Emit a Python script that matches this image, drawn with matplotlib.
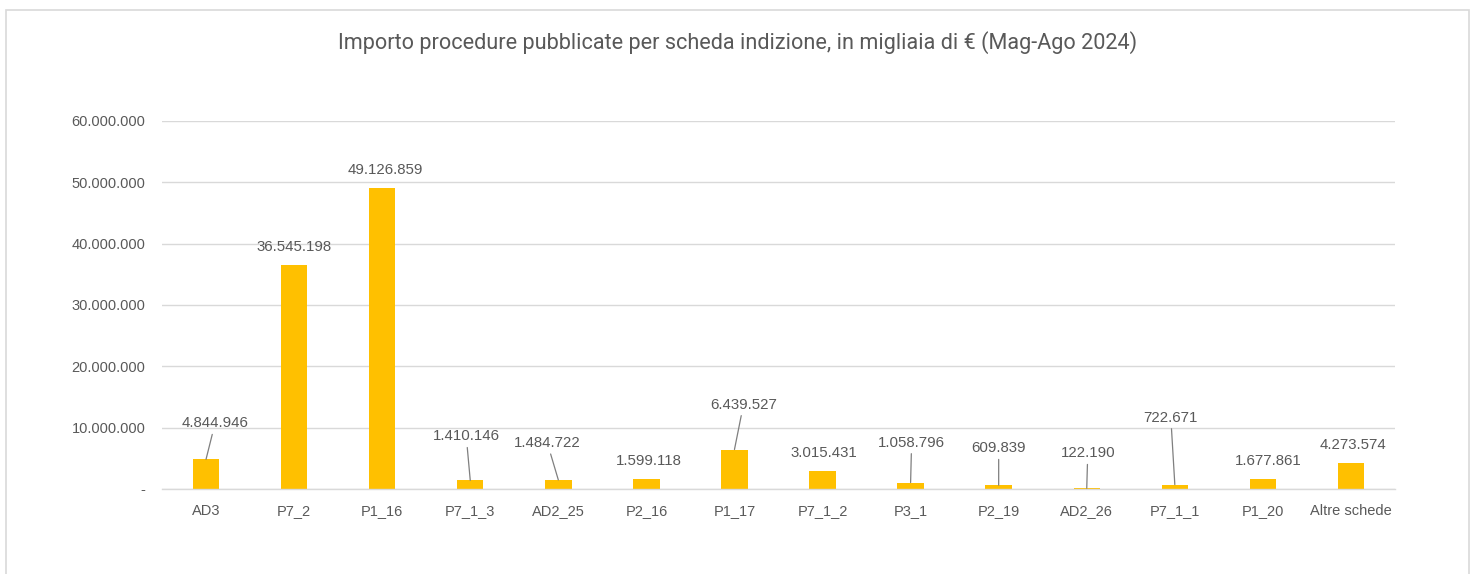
import matplotlib
matplotlib.use("Agg")
import matplotlib.pyplot as plt
from matplotlib.patches import Rectangle

# dati (migliaia di euro)
schede = ["AD3", "P7_2", "P1_16", "P7_1_3", "AD2_25", "P2_16", "P1_17",
          "P7_1_2", "P3_1", "P2_19", "AD2_26", "P7_1_1", "P1_20", "Altre schede"]
importi = [4844946, 36545198, 49126859, 1410146, 1484722, 1599118, 6439527,
           3015431, 1058796, 609839, 122190, 722671, 1677861, 4273574]

# posizione delle etichette rispetto alla cima della barra (pixel) e linea guida
lab_dx = [9, 0, 3, -4, -11, 2, 9, 1, 1, 0, 1, -4, 5, 2]
lab_dy = [-36, -18, -18, -44, -37, -18, -45, -18, -40, -37, -35, -67, -18, -18]
leader = [True, False, False, True, True, False, True, False, True, True, True, True, False, False]

grey = "#595959"
gold = "#FFC000"
light = "#D9D9D9"


def fmt_it(v):
    if v == 0:
        return "-"
    return f"{int(v):,}".replace(",", ".")


plt.rcParams['font.family'] = ['Liberation Sans', 'DejaVu Sans']

fig = plt.figure(figsize=(14.82, 5.74), dpi=100)
fig.patches.append(Rectangle((6 / 1482, -0.05), 1463 / 1482, 1.05 - 10 / 574,
                             transform=fig.transFigure, fill=False,
                             edgecolor=light, linewidth=1.2))

ax = fig.add_axes([162 / 1482, 85 / 574, 1233 / 1482, 368 / 574])
x = list(range(len(schede)))
bars = ax.bar(x, importi, width=0.30, color=gold, zorder=3)

ax.set_xlim(-0.5, len(schede) - 0.5)
ax.set_ylim(0, 60000000)
yt = [0, 10000000, 20000000, 30000000, 40000000, 50000000, 60000000]
ax.set_yticks(yt)
ax.set_yticklabels([fmt_it(v) for v in yt], color=grey, fontsize=10.5)
ax.set_xticks(x)
ax.set_xticklabels(schede, color=grey, fontsize=10.5)
ax.tick_params(axis='y', length=0, pad=12)
ax.tick_params(axis='x', length=0, pad=11)
ax.grid(axis='y', color=light, linewidth=1.0, zorder=0)
for s in ["top", "right", "left"]:
    ax.spines[s].set_visible(False)
ax.spines["bottom"].set_color(light)
ax.spines["bottom"].set_linewidth(1.0)
ax.spines["bottom"].set_zorder(4)

for i, v in enumerate(importi):
    props = None
    if leader[i]:
        props = dict(arrowstyle='-', color="#7F7F7F", lw=0.9, shrinkA=1, shrinkB=0)
    ax.annotate(fmt_it(v), xy=(i, v), xytext=(lab_dx[i], -lab_dy[i]),
                textcoords='offset pixels', ha='center', va='center',
                color=grey, fontsize=10.8, arrowprops=props, zorder=5)

fig.text(738 / 1482, 1 - 43 / 574,
         "Importo procedure pubblicate per scheda indizione, in migliaia di € (Mag-Ago 2024)",
         ha='center', va='center', color=grey, fontsize=15.6, family=['Roboto', 'DejaVu Sans'])

fig.savefig("out.png", dpi=100, facecolor="white")
